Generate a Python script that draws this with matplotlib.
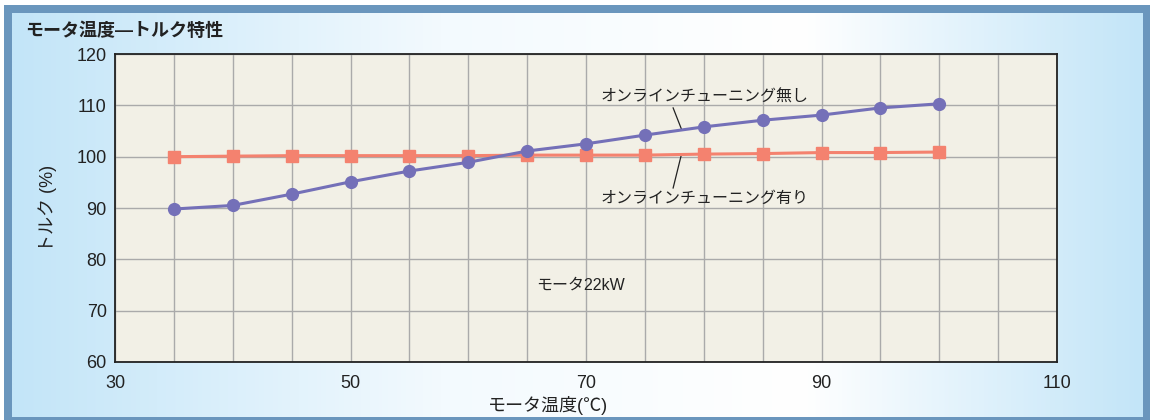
import numpy as np
import matplotlib
matplotlib.use('Agg')
from matplotlib import pyplot as plt
from matplotlib.colors import LinearSegmentedColormap
from matplotlib.patches import Rectangle

plt.rcParams['font.family'] = ['Liberation Sans', 'Noto Sans CJK JP', 'DejaVu Sans']

temperature = [35, 40, 45, 50, 55, 60, 65, 70, 75, 80, 85, 90, 95, 100]
torque_without = [89.8, 90.5, 92.7, 95.1, 97.2, 98.9, 101.1, 102.5, 104.2, 105.8, 107.1, 108.1, 109.5, 110.3]
torque_with = [100.0, 100.1, 100.2, 100.2, 100.2, 100.2, 100.3, 100.3, 100.3, 100.5, 100.6, 100.8, 100.8, 100.9]

x_ticks = [30, 50, 70, 90, 110]
y_ticks = [60, 70, 80, 90, 100, 110, 120]

W, H = 1152, 420
fig = plt.figure(figsize=(W / 100, H / 100), dpi=100)

# background frame with horizontal gradient
bg = fig.add_axes([0, 0, 1, 1])
bg.add_patch(Rectangle((4, 5), 1146, 420, facecolor='#6a96bd', edgecolor='none', zorder=1))
grad_cmap = LinearSegmentedColormap.from_list(
    'bg', [(0.0, '#c3e5f8'), (0.38, '#f3fafe'), (0.70, '#ffffff'), (1.0, '#c3e5f8')])
grad = np.linspace(0, 1, 512).reshape(1, -1)
bg.imshow(grad, cmap=grad_cmap, extent=(12, 1143, 417, 13), aspect='auto', zorder=2)
bg.set_xlim(0, W)
bg.set_ylim(H, 0)
bg.axis('off')

bg.text(25, 31, 'モータ温度―トルク特性', fontsize=13, fontweight='bold',
        color='#222222', va='center', ha='left', zorder=3)

ax = fig.add_axes([115 / W, 1 - 362 / H, (1057 - 115) / W, (362 - 54) / H])
ax.set_facecolor('#f2f0e6')
ax.set_xlim(30, 110)
ax.set_ylim(60, 120)
ax.set_xticks(np.arange(30, 111, 5), minor=True)
ax.set_xticks(x_ticks)
ax.set_yticks(y_ticks)
ax.grid(True, which='both', color='#aaaaaa', linewidth=1.0)
ax.tick_params(which='both', length=0, labelsize=13, colors='#222222')
ax.tick_params(axis='x', pad=9)
ax.tick_params(axis='y', pad=6)
for s in ax.spines.values():
    s.set_color('#222222')
    s.set_linewidth(1.3)
ax.set_axisbelow(True)

ax.plot(temperature, torque_with, color='#f4826f', linewidth=2.2, marker='s',
        markersize=8, zorder=3)
ax.plot(temperature, torque_without, color='#7470b8', linewidth=2.2, marker='o',
        markersize=8.5, zorder=4)

ax.text(71.2, 111.6, 'オンラインチューニング無し', fontsize=11.5, va='center', ha='left', color='#222222')
ax.plot([77.4, 78.1], [109.5, 105.4], color='#222222', linewidth=0.9)
ax.text(71.2, 91.9, 'オンラインチューニング有り', fontsize=11.5, va='center', ha='left', color='#222222')
ax.plot([78.1, 77.4], [100.4, 93.9], color='#222222', linewidth=0.9)
ax.text(65.8, 75.0, 'モータ22kW', fontsize=11.5, va='center', ha='left', color='#222222')

ax.set_xlabel('モータ温度(℃)', fontsize=13, color='#222222', labelpad=3)
ax.xaxis.label.set_x(0.46)
ax.set_ylabel('トルク (%)', fontsize=13, color='#222222', labelpad=14)

fig.savefig('out.png', dpi=100)
